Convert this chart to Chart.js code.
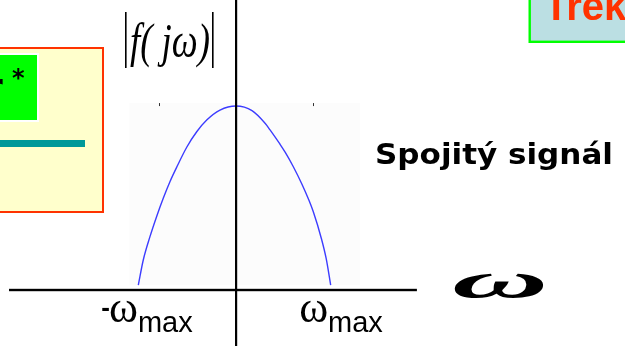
<!DOCTYPE html>
<html>
<head>
<meta charset="utf-8">
<script src="https://cdn.jsdelivr.net/npm/chart.js@4"></script>
<style>
  html, body { margin: 0; padding: 0; background: #fff; }
  canvas { display: block; }
</style>
</head>
<body>
<canvas id="spektrum" width="625" height="346"></canvas>
<script>
// frekvence v násobcích ω_max
const omega = [-1.007, -0.956, -0.887, -0.818, -0.749, -0.680, -0.611, -0.508, -0.405, -0.302, -0.165, 0,
    0.165, 0.302, 0.351, 0.45, 0.508, 0.591, 0.680, 0.750, 0.797, 0.880, 0.930, 0.976];
// |f(jω)| normované na špičku
const amplituda = [0.027, 0.163, 0.290, 0.400, 0.500, 0.590, 0.668, 0.776, 0.860, 0.924, 0.978, 1.0,
    0.975, 0.905, 0.870, 0.795, 0.748, 0.670, 0.575, 0.490, 0.425, 0.280, 0.170, 0.027];
const tickValues = [-1, 1];
const tickLabels = ['-ω', 'ω'];
const tickSub = 'max';

// kreslí popisky, osy a okolní rámečky snímku
const slide = {
    id: 'slide',
    beforeDraw(chart) {
        const ctx = chart.ctx;
        ctx.save();
        ctx.fillStyle = '#ffffff';
        ctx.fillRect(0, 0, chart.width, chart.height);

        // žlutý rámeček vlevo
        ctx.fillStyle = '#ffffcc';
        ctx.fillRect(-5, 47, 109, 165);
        ctx.strokeStyle = '#ff3300';
        ctx.lineWidth = 2;
        ctx.strokeRect(-5, 48, 108, 164);
        ctx.fillStyle = '#ffffff';
        ctx.fillRect(-5, 53, 44, 69);
        ctx.fillStyle = '#00ff00';
        ctx.fillRect(-5, 55, 42, 65);
        ctx.fillStyle = '#000';
        ctx.font = 'bold 34px "DejaVu Sans"';
        ctx.textBaseline = 'alphabetic';
        ctx.fillText('r', -14, 98);
        ctx.font = 'bold 24px "DejaVu Sans"';
        ctx.fillText('*', 12, 86);
        ctx.fillStyle = '#009999';
        ctx.fillRect(-5, 140, 90, 7);

        // modrý rámeček s nadpisem
        ctx.fillStyle = '#bbdfe3';
        ctx.fillRect(529, -5, 100, 47);
        ctx.strokeStyle = '#00ff00';
        ctx.lineWidth = 2.4;
        ctx.strokeRect(529.7, -5, 100, 46.8);
        ctx.fillStyle = '#ff3300';
        ctx.font = 'bold 40px "Liberation Sans"';
        ctx.fillText('Trek', 544, 20);
        ctx.restore();
    },
    beforeDatasetsDraw(chart) {
        const ctx = chart.ctx, x = chart.scales.x, y = chart.scales.y;
        ctx.save();
        // podklad grafu z Matlabu
        const l = x.getPixelForValue(-1.1), r = x.getPixelForValue(1.28);
        const t = y.getPixelForValue(1.016), b = y.getPixelForValue(0.027);
        ctx.fillStyle = '#fcfcfc';
        ctx.fillRect(l, t, r - l, b - t);
        ctx.fillStyle = '#333';
        [-0.79, 0.79].forEach(v => ctx.fillRect(Math.round(x.getPixelForValue(v)), t, 1, 3));
        ctx.restore();
    },
    afterDatasetsDraw(chart) {
        const ctx = chart.ctx, x = chart.scales.x, y = chart.scales.y;
        const x0 = x.getPixelForValue(0), y0 = y.getPixelForValue(0);
        ctx.save();
        ctx.fillStyle = '#000';
        ctx.fillRect(x0 - 1, 0, 2.2, chart.height);
        ctx.fillRect(x.getPixelForValue(-2.34), y0 - 1.2, x.getPixelForValue(1.865) - x.getPixelForValue(-2.34), 2.4);
        ctx.restore();
    },
    afterDraw(chart) {
        const ctx = chart.ctx, x = chart.scales.x;
        ctx.save();
        ctx.fillStyle = '#000';
        ctx.textBaseline = 'alphabetic';

        // popisky ±ω_max
        tickValues.forEach((v, i) => {
            const lab = tickLabels[i];
            const sign = lab.startsWith('-') ? '-' : '';
            const w = lab.replace('-', '');
            ctx.font = 'bold 26px "Liberation Sans"';
            const ws = sign ? ctx.measureText(sign).width - 1 : 0;
            ctx.font = '44px "Liberation Serif"';
            const ww = ctx.measureText(w).width;
            ctx.font = '29px "Liberation Sans"';
            const wm = ctx.measureText(tickSub).width;
            let sx = x.getPixelForValue(v) + 8 - (ws + ww + wm) / 2;
            if (sign) {
                ctx.font = 'bold 26px "Liberation Sans"';
                ctx.fillText(sign, sx, 316);
                sx += ws;
            }
            ctx.font = '44px "Liberation Serif"';
            ctx.fillText(w, sx, 322);
            sx += ww;
            ctx.font = '29px "Liberation Sans"';
            ctx.fillText(tickSub, sx, 332);
        });

        // |f( jω)|
        ctx.fillRect(125, 12, 1.6, 56);
        ctx.fillRect(212, 12, 1.6, 56);
        ctx.save();
        ctx.font = 'italic 48px "Liberation Serif"';
        const fw = ctx.measureText('f( jω)').width;
        ctx.translate(130, 57);
        ctx.scale(80 / fw, 1);
        ctx.fillText('f( jω)', 0, 0);
        ctx.restore();

        // Spojitý signál
        ctx.save();
        ctx.font = 'bold 28px "DejaVu Sans"';
        const sw = ctx.measureText('Spojitý signál').width;
        ctx.translate(375, 164);
        ctx.scale(238 / sw, 1);
        ctx.fillText('Spojitý signál', 0, 0);
        ctx.restore();

        // velké ω u osy
        ctx.save();
        ctx.font = 'bold italic 40px "Liberation Serif"';
        const m = ctx.measureText('ω');
        const bw = m.actualBoundingBoxLeft + m.actualBoundingBoxRight;
        const bh = m.actualBoundingBoxAscent + m.actualBoundingBoxDescent;
        ctx.translate(452, 273);
        ctx.scale(93 / bw, 25 / bh);
        ctx.fillText('ω', m.actualBoundingBoxLeft, m.actualBoundingBoxAscent);
        ctx.restore();

        ctx.restore();
    }
};

const spektrum = new Chart(document.getElementById('spektrum'), {
    type: 'line',
    data: {
        datasets: [{
            label: '|f(jω)|',
            data: omega.map((w, i) => ({ x: w, y: amplituda[i] })),
            borderColor: 'rgb(60, 60, 255)',
            borderWidth: 1.4,
            pointRadius: 0,
            cubicInterpolationMode: 'monotone',
            fill: false
        }]
    },
    options: {
        responsive: false,
        animation: false,
        layout: { padding: 0 },
        plugins: { legend: { display: false }, tooltip: { enabled: false } },
        scales: {
            x: { type: 'linear', min: -2.433, max: 4.0103, display: false },
            y: { min: -0.3043, max: 1.5761, display: false }
        }
    },
    plugins: [slide]
});
</script>
</body>
</html>
